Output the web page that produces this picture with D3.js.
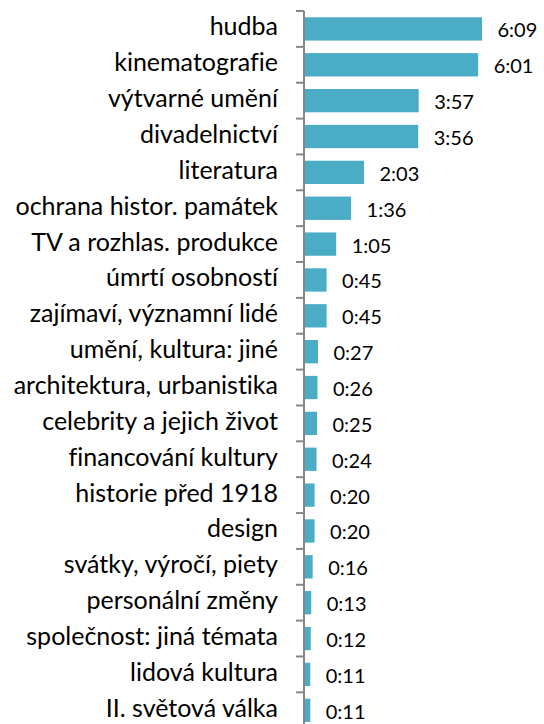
<!DOCTYPE html>
<html><head><meta charset="utf-8">
<script src="https://cdn.jsdelivr.net/npm/d3@7"></script>
<style>html,body{margin:0;padding:0;background:#fff;}svg{display:block;}text{font-variant-ligatures:none;font-feature-settings:"liga" 0,"clig" 0;}</style>
</head><body>
<svg id="c" width="544" height="724"></svg>
<script>
const categories = ["hudba","kinematografie","výtvarné umění","divadelnictví","literatura","ochrana histor. památek","TV a rozhlas. produkce","úmrtí osobností","zajímaví, významní lidé","umění, kultura: jiné","architektura, urbanistika","celebrity a jejich život","financování kultury","historie před 1918","design","svátky, výročí, piety","personální změny","společnost: jiná témata","lidová kultura","II. světová válka"];
const valueLabels = ["6:09","6:01","3:57","3:56","2:03","1:36","1:05","0:45","0:45","0:27","0:26","0:25","0:24","0:20","0:20","0:16","0:13","0:12","0:11","0:11"];
const values = valueLabels.map(s => { const [m, sec] = s.split(":").map(Number); return m * 60 + sec; });

const svg = d3.select("#c");
const axisX = 304;
const y = d3.scaleBand().domain(categories).range([11, 11 + 20 * 35.86]).paddingInner(0.35).paddingOuter(0.175);
const x = d3.scaleLinear().domain([0, 369]).range([axisX + 1, axisX + 1 + 177]);

svg.selectAll("rect.bar").data(categories).join("rect")
  .attr("x", x(0)).attr("y", d => y(d))
  .attr("width", (d, i) => x(values[i]) - x(0)).attr("height", y.bandwidth())
  .attr("fill", "#4BACC6");

// axis line and ticks at band boundaries
const step = y.step();
const r0 = y.range()[0];
svg.append("line").attr("x1", axisX).attr("x2", axisX).attr("y1", r0).attr("y2", r0 + step * 20)
  .attr("stroke", "#868686").attr("stroke-width", 2);
svg.selectAll("line.tick").data(d3.range(21)).join("line")
  .attr("x1", axisX - 8).attr("x2", axisX).attr("y1", i => r0 + i * step).attr("y2", i => r0 + i * step)
  .attr("stroke", "#868686").attr("stroke-width", 2);

svg.selectAll("text.cat").data(categories).join("text")
  .attr("x", 278).attr("y", d => y(d) + y.bandwidth() / 2 + 6.5)
  .attr("text-anchor", "end").attr("font-family", "Lato, sans-serif").attr("font-size", 25)
  .attr("fill", "#000").text(d => d);

svg.selectAll("text.val").data(categories).join("text")
  .attr("x", (d, i) => x(values[i]) + 15.5).attr("y", d => y(d) + y.bandwidth() / 2 + 8.5)
  .attr("font-family", "Lato, sans-serif").attr("font-size", 20)
  .attr("fill", "#000").text((d, i) => valueLabels[i]);
</script>
</body></html>
